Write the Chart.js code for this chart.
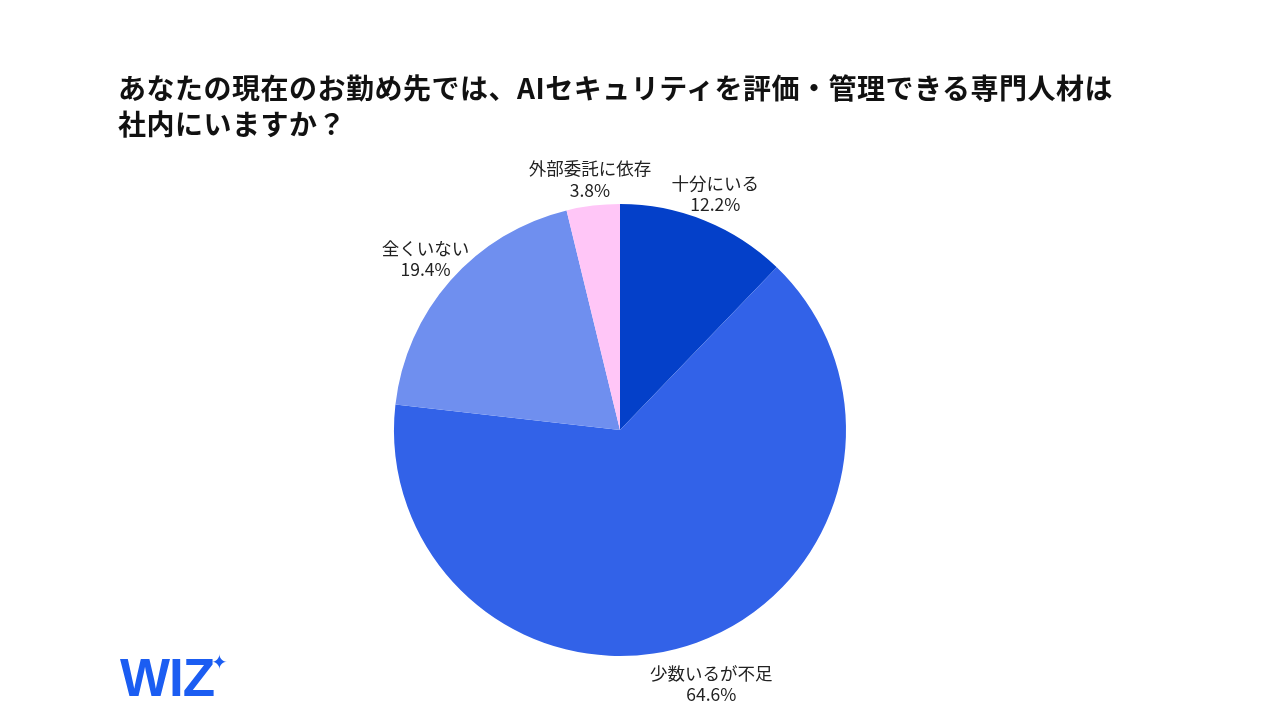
<!DOCTYPE html>
<html><head><meta charset="utf-8">
<script src="https://cdn.jsdelivr.net/npm/chart.js@4/dist/chart.umd.min.js"></script>
<style>
html,body{margin:0;padding:0;background:#fff;}
#wrap{position:relative;width:1280px;height:720px;overflow:hidden;}
#title{position:absolute;left:118px;top:69px;font-family:"Noto Sans CJK JP","Noto Sans",sans-serif;font-weight:700;font-size:28px;line-height:36px;color:#111;white-space:nowrap;letter-spacing:0.5px;}
#logo{position:absolute;left:120px;top:647px;font-family:"Liberation Sans",Arial,sans-serif;font-weight:700;font-size:53px;color:#1B5DF2;letter-spacing:-1px;}
#star{position:absolute;left:211px;top:650px;font-size:20px;color:#1B5DF2;font-family:"DejaVu Sans",sans-serif;}
canvas{position:absolute;left:0;top:0;}
</style></head><body>
<div id="wrap">
<canvas id="c" width="1280" height="720"></canvas>
<div id="title">あなたの現在のお勤め先では、AIセキュリティを評価・管理できる専門人材は<br>社内にいますか？</div>
<div id="logo">WIZ</div><div id="star">✦</div>
</div>
<script>
const categories = ["十分にいる", "少数いるが不足", "全くいない", "外部委託に依存"];
const values = [12.2, 64.6, 19.4, 3.8];
const colors = ["#0440C9", "#3262E8", "#6F8FEF", "#FFC6F7"];

const labelPlugin = {
  id: 'outLabels',
  afterDatasetsDraw(chart) {
    const ctx = chart.ctx;
    const meta = chart.getDatasetMeta(0);
    ctx.save();
    ctx.fillStyle = '#222';
    ctx.textAlign = 'center';
    ctx.textBaseline = 'middle';
    ctx.font = '17.5px "Noto Sans CJK JP", "Noto Sans", sans-serif';
    meta.data.forEach((arc, i) => {
      const p = arc.getProps(['x','y','startAngle','endAngle','outerRadius'], true);
      const mid = (p.startAngle + p.endAngle) / 2;
      const r = p.outerRadius + 34 + 8 * Math.sin(mid) + 6 * Math.abs(Math.cos(mid));
      const cx = p.x + Math.cos(mid) * r;
      const cy = p.y + Math.sin(mid) * r;
      ctx.fillText(categories[i], cx, cy - 10.5);
      ctx.fillText(values[i].toFixed(1) + '%', cx, cy + 11);
    });
    ctx.restore();
  }
};

new Chart(document.getElementById('c'), {
  type: 'pie',
  data: { labels: categories, datasets: [{ data: values, backgroundColor: colors, borderWidth: 0 }] },
  options: {
    responsive: false, animation: false,
    layout: { padding: { left: 394, right: 434, top: 204, bottom: 64 } },
    plugins: { legend: { display: false }, tooltip: { enabled: false } }
  },
  plugins: [labelPlugin]
});
</script>
</body></html>
